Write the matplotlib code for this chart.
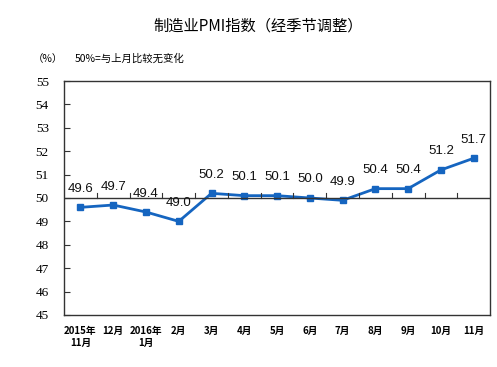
import matplotlib.pyplot as plt

plt.rcParams['font.family'] = ['Noto Sans CJK SC', 'DejaVu Sans']

# data
months = ["2015年\n11月", "12月", "2016年\n1月", "2月", "3月", "4月", "5月",
          "6月", "7月", "8月", "9月", "10月", "11月"]
pmi = [49.6, 49.7, 49.4, 49.0, 50.2, 50.1, 50.1, 50.0, 49.9, 50.4, 50.4, 51.2, 51.7]
y_ticks = [45, 46, 47, 48, 49, 50, 51, 52, 53, 54, 55]

fig = plt.figure(figsize=(4.97, 3.67), dpi=100)
ax = fig.add_axes([0.129, 0.142, 0.857, 0.637])

x = list(range(len(pmi)))
ax.plot(x, pmi, color="#1565C0", linewidth=2, marker="s", markersize=4.5)

ax.set_xlim(-0.5, len(pmi) - 0.5)
ax.set_ylim(45, 55)

# 50 line with ticks between categories
ax.axhline(50, color="#333333", linewidth=1)
for b in range(1, len(pmi)):
    ax.plot([b - 0.5, b - 0.5], [50, 50.2], color="#333333", linewidth=0.8)

# value labels
for i, v in enumerate(pmi):
    ax.annotate(f"{v:.1f}", (i, v), xytext=(0, 9), textcoords="offset points",
                ha="center", va="bottom", fontsize=9.5,
                family=["Liberation Sans", "DejaVu Sans"], color="#111111")

ax.set_yticks(y_ticks)
ax.set_yticklabels([str(t) for t in y_ticks],
                   family=["Liberation Serif", "DejaVu Serif"], fontsize=9.5)
ax.tick_params(axis="y", direction="in", length=4, pad=11, color="#333333")

ax.set_xticks(x)
ax.set_xticklabels(months, fontsize=7, fontweight="bold", linespacing=1.3)
ax.tick_params(axis="x", length=0, pad=8)
for lbl in ax.get_xticklabels():
    lbl.set_verticalalignment("top")

for s in ax.spines.values():
    s.set_color("#333333")
    s.set_linewidth(1)

fig.text(0.52, 0.93, "制造业PMI指数（经季节调整）", ha="center", va="center",
         fontsize=11)
fig.text(0.065, 0.84, "（%）", ha="left", va="center", fontsize=7.5)
fig.text(0.15, 0.84, "50%=与上月比较无变化", ha="left", va="center", fontsize=7.5)

fig.savefig("out.png", dpi=100)
